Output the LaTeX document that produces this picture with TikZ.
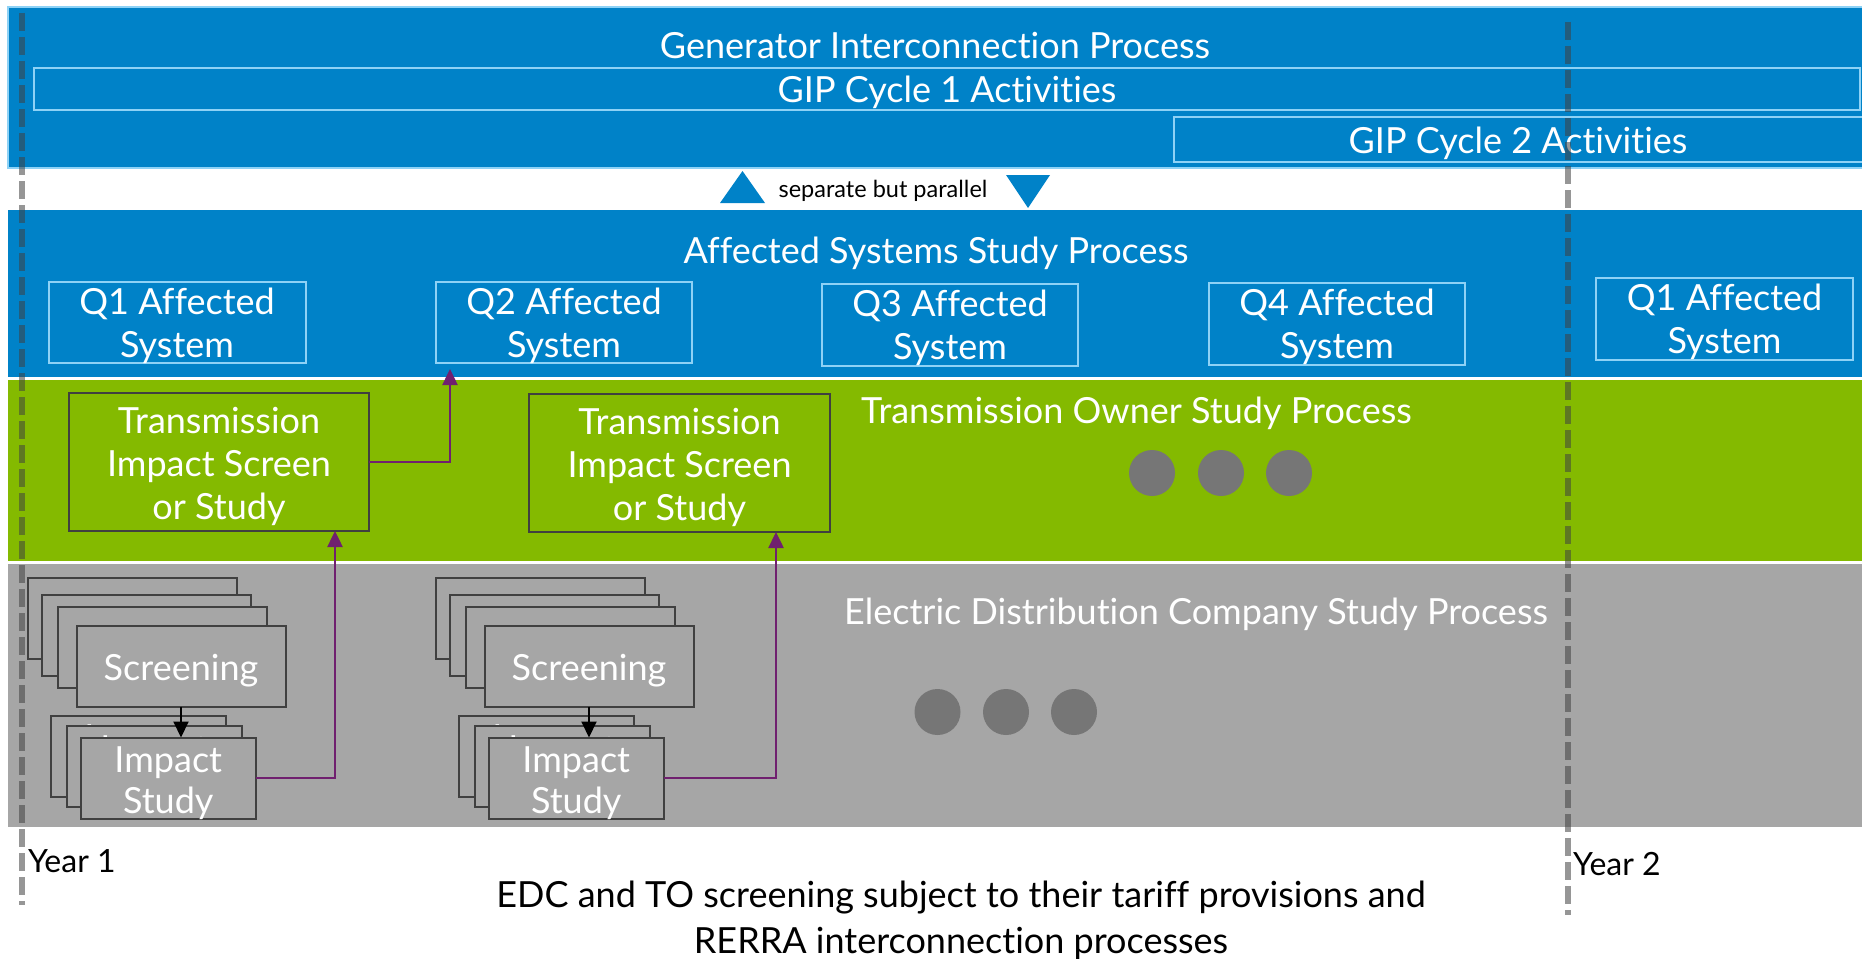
\documentclass[tikz,border=0pt]{standalone}
\usepackage{fontspec}
\setmainfont{Lato}[Ligatures=NoCommon]
\usetikzlibrary{arrows.meta}

\definecolor{gipblue}{HTML}{0082C8}
\definecolor{edgeblue}{HTML}{8ED2F6}
\definecolor{togreen}{HTML}{84BA00}
\definecolor{edcgray}{HTML}{A6A6A6}
\definecolor{dotgray}{HTML}{767676}
\definecolor{boxline}{HTML}{404040}
\definecolor{linkpurple}{HTML}{70206F}

\newcommand\bigfs{\fontsize{36}{43}\selectfont}
\newcommand\boxfs{\fontsize{36}{40.5}\selectfont}

\begin{document}
\begin{tikzpicture}[x=1pt,y=-1pt,
  every node/.style={inner sep=0pt, outer sep=0pt},
  % multi-line labels are anchored on the baseline of their last line
  lbl/.style={text=white, font=\bigfs, align=center, anchor=base},
  qbox/.style={draw=edgeblue, line width=2pt, fill=gipblue, anchor=north west},
  cyclebox/.style={draw=edgeblue, line width=2pt, anchor=north west},
  tobox/.style={draw=boxline, line width=2pt, fill=togreen, anchor=north west,
    minimum width=300pt, minimum height=138pt},
  edcbox/.style={draw=boxline, line width=2pt, fill=edcgray, anchor=north west},
  scrbox/.style={edcbox, minimum width=209pt, minimum height=81pt},
  impbox/.style={edcbox, minimum width=174.5pt, minimum height=81pt},
  implbl/.style={lbl, font=\boxfs},
  link/.style={draw=linkpurple, line width=2.5pt,
    -{Triangle[length=16pt, width=15pt]}},
  flow/.style={draw=black, line width=2pt,
    -{Triangle[length=16pt, width=15pt]}},
  dot/.style={circle, fill=dotgray, minimum size=46pt},
  yearline/.style={draw=boxline, draw opacity=0.55, line width=6pt,
    dash pattern=on 18pt off 6pt},
  plain/.style={text=black, anchor=base}
]
\useasboundingbox (0,0) rectangle (1862,958);

% ---- process bands ----
\draw[fill=gipblue, draw=edgeblue, line width=2pt] (8,7) rectangle (1872,168);
\fill[gipblue] (8,210) rectangle (1862,377);
\fill[togreen] (8,380) rectangle (1862,561);
\fill[edcgray] (8,563.5) rectangle (1862,827);

% ---- generator interconnection process ----
\node[lbl] (gip) at (935,59) {Generator Interconnection Process};
\node[cyclebox, minimum width=1826pt, minimum height=42pt] (cyc1) at (34,68) {};
\node[lbl] (cyc1t) at (947,102) {GIP Cycle 1 Activities};
\node[cyclebox, minimum width=700pt, minimum height=45pt] (cyc2) at (1174,117) {};
\node[lbl] (cyc2t) at (1518,153) {GIP Cycle 2 Activities};

% ---- separate but parallel ----
\fill[gipblue] (720,203) -- (765,203) -- (742.5,171) -- cycle;
\fill[gipblue] (1006,175) -- (1050,175) -- (1028,208) -- cycle;
\node[plain, font=\fontsize{23.5}{27}\selectfont] (sep) at (883,197) {separate but parallel};

% ---- affected systems study process ----
\node[lbl] (asp) at (936,263) {Affected Systems Study Process};
\node[qbox, minimum width=257pt, minimum height=81pt] (q1) at (48.5,282) {};
\node[qbox, minimum width=256pt, minimum height=81pt] (q2) at (436,282) {};
\node[qbox, minimum width=256pt, minimum height=82pt] (q3) at (822,284) {};
\node[qbox, minimum width=256pt, minimum height=82pt] (q4) at (1209,283) {};
\node[qbox, minimum width=257pt, minimum height=82pt] (q1b) at (1596,278) {};
\node[lbl] (q1t) at ([yshift=-75pt]q1.north) {Q1 Affected\\System};
\node[lbl] (q2t) at ([yshift=-75pt]q2.north) {Q2 Affected\\System};
\node[lbl] (q3t) at ([yshift=-75pt]q3.north) {Q3 Affected\\System};
\node[lbl] (q4t) at ([yshift=-75pt]q4.north) {Q4 Affected\\System};
\node[lbl] (q1bt) at ([yshift=-75pt]q1b.north) {Q1 Affected\\System};

% ---- transmission owner study process ----
\node[lbl] (tosp) at (1136.5,423) {Transmission Owner Study Process};
\node[tobox] (tis1) at (69,393) {};
\node[tobox, minimum width=301pt] (tis2) at (529,394) {};
\node[lbl] (tis1t) at ([yshift=-126pt]tis1.north) {Transmission\\Impact Screen\\or Study};
\node[lbl] (tis2t) at ([yshift=-126pt]tis2.north) {Transmission\\Impact Screen\\or Study};
\node[dot] (tod1) at (1152,473) {};
\node[dot] (tod2) at (1221,473) {};
\node[dot] (tod3) at (1289,473) {};

% ---- electric distribution company study process ----
\node[lbl] (edcp) at (1196,624) {Electric Distribution Company Study Process};

% first batch of studies
\node[scrbox] (s1a) at (28,578) {};
\node[scrbox] (s1b) at (42,595) {};
\node[scrbox] (s1c) at (57.5,607) {};
\node[scrbox] (scr1) at (76.5,625.5) {};
\node[lbl] (scr1t) at ([yshift=-54.5pt]scr1.north) {Screening};
\node[impbox] (i1a) at (51,715.5) {};
\node[implbl] (i1at) at ([yshift=-75.5pt]i1a.north) {Impact\\Study};
\node[impbox] (i1b) at (67,726) {};
\node[implbl] (i1bt) at ([yshift=-75.5pt]i1b.north) {Impact\\Study};
\node[impbox] (imp1) at (81,737.5) {};
\node[implbl] (imp1t) at ([yshift=-75.5pt]imp1.north) {Impact\\Study};

% second batch of studies
\node[scrbox] (s2a) at (436,578) {};
\node[scrbox] (s2b) at (450,595) {};
\node[scrbox] (s2c) at (465.5,607) {};
\node[scrbox] (scr2) at (484.5,625.5) {};
\node[lbl] (scr2t) at ([yshift=-54.5pt]scr2.north) {Screening};
\node[impbox] (i2a) at (459,715.5) {};
\node[implbl] (i2at) at ([yshift=-75.5pt]i2a.north) {Impact\\Study};
\node[impbox] (i2b) at (475,726) {};
\node[implbl] (i2bt) at ([yshift=-75.5pt]i2b.north) {Impact\\Study};
\node[impbox] (imp2) at (489,737.5) {};
\node[implbl] (imp2t) at ([yshift=-75.5pt]imp2.north) {Impact\\Study};

\node[dot] (edd1) at (937.5,712) {};
\node[dot] (edd2) at (1006,712) {};
\node[dot] (edd3) at (1074,712) {};

% ---- connectors ----
\draw[flow] (scr1.south) -- (scr1.south |- imp1.north);
\draw[flow] (scr2.south) -- (scr2.south |- imp2.north);
\coordinate (q2in) at ([xshift=14pt]q2.south west);
\draw[link, shorten >=6pt] (tis1.east) -| (q2in);
\coordinate (tis1in) at ([xshift=-34pt]tis1.south east);
\draw[link] (imp1.east) -| (tis1in);
\coordinate (tis2in) at ([xshift=-54pt]tis2.south east);
\draw[link] (imp2.east) -| (tis2in);

% ---- year markers ----
\coordinate (y1top) at (22,13);
\coordinate (y1bot) at (22,905);
\coordinate (y2top) at (1568,22);
\coordinate (y2bot) at (1568,915);
\draw[yearline] (y1top) -- (y1bot);
\draw[yearline] (y2top) -- (y2bot);
\node[plain, font=\fontsize{32}{36}\selectfont, anchor=base west] (yr1) at (28,872) {Year 1};
\node[plain, font=\fontsize{32}{36}\selectfont, anchor=base west] (yr2) at (1573,875) {Year 2};

% ---- footnote ----
\node[plain, font=\fontsize{36}{46}\selectfont, align=center] (note) at (961,953)
  {EDC and TO screening subject to their tariff provisions and\\RERRA interconnection processes};
\end{tikzpicture}
\end{document}
